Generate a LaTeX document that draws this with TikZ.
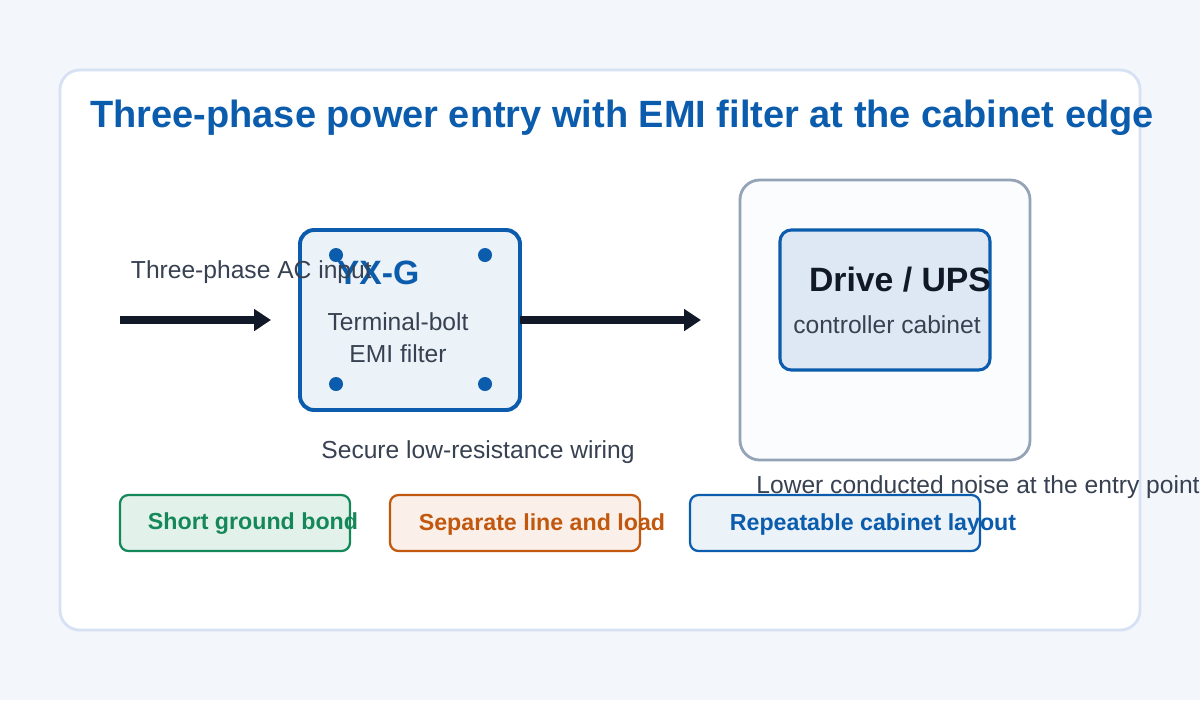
\documentclass[tikz,border=0pt]{standalone}
\usepackage{fontspec}
\setmainfont{Liberation Sans}
\usetikzlibrary{arrows.meta,positioning}
\definecolor{bg}{HTML}{F3F6FB}
\definecolor{panel}{HTML}{D6E2F3}
\definecolor{blue}{HTML}{0B5CAD}
\definecolor{green}{HTML}{15885A}
\definecolor{orange}{HTML}{C2570E}
\definecolor{ink}{HTML}{111827}
\definecolor{txt}{HTML}{374151}
\definecolor{grey}{HTML}{94A3B8}
\tikzset{
  flow/.style={line width=5.5pt,draw=ink,-{Triangle[length=12pt,width=15pt]}},
  lbl/.style={text=txt,font=\fontsize{17.5}{20}\selectfont},
  pill/.style={rounded corners=6pt,line width=1.6pt},
  pilltext/.style={font=\bfseries\fontsize{16.5}{19}\selectfont}
}
\begin{document}
\begin{tikzpicture}[x=0.025cm,y=-0.025cm]
      \useasboundingbox (0,0) rectangle (1200,700);
      \fill[bg] (0,0) rectangle (1200,700);
      \draw[panel,fill=white,line width=2pt,rounded corners=14pt] (60,70) rectangle (1140,630);
      \node (title) at (622,118) {\color{blue}\bfseries\fontsize{27}{30}\selectfont Three-phase power entry with EMI filter at the cabinet edge};

      % filter
      \draw[blue,fill=blue!8,line width=2.8pt,rounded corners=10pt] (300,230) rectangle (520,410);
      \foreach \p in {(336,255),(485,255),(336,384),(485,384)}
        \fill[blue] \p circle (7);
      \node (yxg) at (378,273) {\color{blue}\bfseries\fontsize{24}{26}\selectfont YX-G};
      \node[lbl,align=center] (filter) at (398,338) {Terminal-bolt\\[3pt]EMI filter};

      % cabinet
      \draw[grey,fill=blue!2,line width=2pt,rounded corners=14pt] (740,180) rectangle (1030,460);
      \draw[blue,fill=blue!14,line width=2.2pt,rounded corners=8pt] (780,230) rectangle (990,370);
      \node (drive) at (900,280) {\color{ink}\bfseries\fontsize{24}{26}\selectfont Drive / UPS};
      \node[lbl] (ctrl) at (887,325) {controller cabinet};

      \coordinate (in) at (120,320);
      \coordinate (fin) at (271,320);
      \coordinate (fout) at (520,320);
      \coordinate (cab) at (701,320);
      \draw[flow] (in) -- (fin);
      \draw[flow] (fout) -- (cab);

      \node[lbl,anchor=west] (acin) at (126,272) {Three-phase AC input};
      \node[lbl] (wiring) at (478,452) {Secure low-resistance wiring};
      \node[lbl] (noise) at (978,487) {Lower conducted noise at the entry point};

      % notes
      \draw[pill,draw=green,fill=green!12] (120,495) rectangle (350,551);
      \node[pilltext,text=green] (ground) at (253,524) {Short ground bond};
      \draw[pill,draw=orange,fill=orange!9] (390,495) rectangle (640,551);
      \node[pilltext,text=orange] (separate) at (542,524) {Separate line and load};
      \draw[pill,draw=blue,fill=blue!8] (690,495) rectangle (980,551);
      \node[pilltext,text=blue] (layout) at (873,524) {Repeatable cabinet layout};
\end{tikzpicture}
\end{document}
